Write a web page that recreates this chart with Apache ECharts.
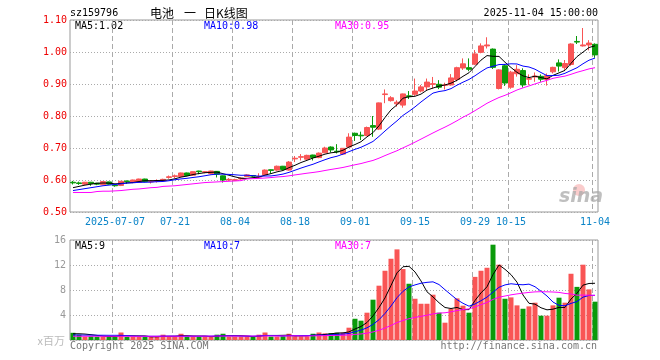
<!DOCTYPE html>
<html><head><meta charset="utf-8">
<script src="https://cdn.jsdelivr.net/npm/echarts@6/dist/echarts.min.js"></script>
<style>html,body{margin:0;padding:0;background:#fff}#c{width:660px;height:360px}</style>
</head><body><div id="c"></div>
<script>
// ---------- data ----------
const dates = ['2025-06-26','2025-06-27','2025-06-30','2025-07-01','2025-07-02','2025-07-03','2025-07-04','2025-07-07','2025-07-08','2025-07-09','2025-07-10','2025-07-11','2025-07-14','2025-07-15','2025-07-16','2025-07-17','2025-07-18','2025-07-21','2025-07-22','2025-07-23','2025-07-24','2025-07-25','2025-07-28','2025-07-29','2025-07-30','2025-07-31','2025-08-01','2025-08-04','2025-08-05','2025-08-06','2025-08-07','2025-08-08','2025-08-11','2025-08-12','2025-08-13','2025-08-14','2025-08-15','2025-08-18','2025-08-19','2025-08-20','2025-08-21','2025-08-22','2025-08-25','2025-08-26','2025-08-27','2025-08-28','2025-08-29','2025-09-01','2025-09-02','2025-09-03','2025-09-04','2025-09-05','2025-09-08','2025-09-09','2025-09-10','2025-09-11','2025-09-12','2025-09-15','2025-09-16','2025-09-17','2025-09-18','2025-09-19','2025-09-22','2025-09-23','2025-09-24','2025-09-25','2025-09-26','2025-09-29','2025-09-30','2025-10-09','2025-10-10','2025-10-13','2025-10-14','2025-10-15','2025-10-16','2025-10-17','2025-10-20','2025-10-21','2025-10-22','2025-10-23','2025-10-24','2025-10-27','2025-10-28','2025-10-29','2025-10-30','2025-10-31','2025-11-03','2025-11-04'];

const openP  = [0.593,0.591,0.587,0.593,0.590,0.585,0.594,0.584,0.583,0.597,0.592,0.593,0.603,0.594,0.596,0.598,0.608,0.611,0.611,0.622,0.615,0.628,0.624,0.620,0.627,0.613,0.600,0.599,0.603,0.611,0.614,0.609,0.616,0.632,0.631,0.643,0.631,0.666,0.671,0.665,0.678,0.670,0.685,0.703,0.690,0.681,0.703,0.746,0.740,0.739,0.770,0.759,0.867,0.848,0.838,0.834,0.863,0.868,0.878,0.891,0.899,0.899,0.896,0.897,0.914,0.950,0.951,0.962,0.999,1.019,1.009,0.886,0.957,0.890,0.932,0.942,0.915,0.922,0.924,0.914,0.938,0.966,0.951,0.961,1.033,1.019,1.022,1.024];
const closeP = [0.591,0.589,0.593,0.589,0.587,0.595,0.587,0.582,0.596,0.595,0.600,0.603,0.595,0.596,0.598,0.602,0.610,0.613,0.622,0.614,0.626,0.626,0.626,0.628,0.618,0.600,0.602,0.601,0.606,0.616,0.612,0.611,0.631,0.630,0.643,0.633,0.656,0.668,0.673,0.677,0.670,0.684,0.700,0.694,0.688,0.699,0.734,0.739,0.738,0.764,0.765,0.841,0.869,0.857,0.843,0.869,0.861,0.878,0.891,0.906,0.901,0.890,0.897,0.919,0.951,0.963,0.946,0.994,1.019,1.022,0.952,0.944,0.903,0.937,0.946,0.897,0.917,0.925,0.915,0.926,0.952,0.956,0.964,1.025,1.031,1.022,1.028,0.991];
const lowP   = [0.586,0.585,0.585,0.582,0.584,0.584,0.585,0.579,0.581,0.588,0.590,0.591,0.593,0.589,0.592,0.597,0.604,0.606,0.610,0.612,0.613,0.618,0.621,0.618,0.608,0.592,0.597,0.597,0.601,0.609,0.609,0.606,0.614,0.620,0.629,0.630,0.629,0.656,0.661,0.663,0.661,0.668,0.684,0.686,0.683,0.678,0.700,0.722,0.725,0.737,0.735,0.756,0.840,0.845,0.829,0.826,0.853,0.863,0.874,0.881,0.886,0.884,0.883,0.895,0.908,0.944,0.940,0.959,0.996,1.011,0.947,0.883,0.894,0.885,0.923,0.889,0.897,0.907,0.907,0.895,0.933,0.939,0.941,0.957,1.025,1.017,1.005,0.982];
const highP  = [0.597,0.595,0.594,0.594,0.591,0.596,0.595,0.586,0.597,0.598,0.601,0.604,0.604,0.600,0.602,0.604,0.614,0.617,0.623,0.623,0.627,0.629,0.628,0.629,0.628,0.614,0.606,0.604,0.608,0.618,0.615,0.621,0.633,0.633,0.645,0.644,0.659,0.675,0.681,0.679,0.679,0.686,0.704,0.705,0.712,0.700,0.746,0.748,0.751,0.767,0.800,0.842,0.883,0.862,0.849,0.870,0.878,0.917,0.897,0.917,0.922,0.912,0.904,0.931,0.954,0.980,0.980,1.006,1.027,1.046,1.011,0.946,0.962,0.941,0.959,0.949,0.930,0.936,0.930,0.933,0.954,0.977,0.975,1.027,1.050,1.075,1.037,1.027];

// volume, in millions (x百万)
const volume = [1.15,0.85,0.55,0.6,0.55,0.55,0.55,0.55,1.2,0.5,0.55,0.5,0.5,0.5,0.55,0.85,0.55,0.55,1.0,0.55,0.55,0.5,0.55,0.55,0.85,1.0,0.55,0.55,0.55,0.55,0.5,0.85,1.2,0.55,0.55,0.6,1.0,0.6,0.6,0.6,1.0,1.2,1.06,1.1,1.17,1.17,1.97,3.4,3.09,4.37,6.45,8.69,11.08,13.0,14.5,11.35,9.0,6.6,5.8,5.8,7.25,4.37,2.77,5.0,6.66,5.49,4.37,10.1,11.08,11.56,15.25,12.05,6.6,6.82,5.54,5.0,5.38,5.97,3.89,3.89,5.54,6.77,5.97,10.6,8.5,12.05,8.1,6.13];

// starting values of the average lines, read where the window reaches before the first shown day
const ma5Head  = [0.576,0.580,0.584,0.587];
const ma10Head = [0.567,0.570,0.573,0.576,0.579,0.582,0.584,0.586,0.588];
const ma30Head = [0.561,0.561,0.561,0.561,0.564,0.565,0.565,0.566,0.567,0.569,0.571,0.572,0.574,0.576,0.577,0.580,0.581,0.582,0.584,0.586,0.588,0.590,0.592,0.593,0.594,0.595,0.596,0.597,0.598];
const volMa5Head  = [1.0,1.0,0.95,0.85];
const volMa10Head = [0.8,0.8,0.78,0.78,0.76,0.76,0.75,0.75,0.75];
const volMa30Head = [0.6,0.6,0.6,0.6,0.6,0.6,0.6,0.6,0.6,0.6,0.6,0.6,0.6,0.6,0.6,0.61,0.61,0.61,0.61,0.62,0.62,0.62,0.62,0.62,0.63,0.63,0.63,0.63,0.64];

const tickDates = ['2025-07-07','2025-07-21','2025-08-04','2025-08-18','2025-09-01','2025-09-15','2025-09-29','2025-10-15','2025-11-04'];
const priceTicks = [0.5,0.6,0.7,0.8,0.9,1.0,1.1];
const volTicks = [0,4,8,12,16];

const titleCode = 'sz159796';
const titleName = ['电池','一','日K线图'];
const stamp = '2025-11-04 15:00:00';
const maLabels = ['MA5:1.02','MA10:0.98','MA30:0.95'];
const volMaLabels = ['MA5:9','MA10:7','MA30:7'];

// ---------- build ----------
function movingAvg(vals, n, head) {
  return vals.map((v, i) => {
    if (i < n - 1) return head[i];
    let s = 0; for (let k = i - n + 1; k <= i; k++) s += vals[k];
    return +(s / n).toFixed(4);
  });
}
const UP = '#f95555', DOWN = '#0a9a0a';
const candle = dates.map((d, i) => [openP[i], closeP[i], lowP[i], highP[i]]);
const volBars = volume.map((v, i) => ({ value: v, itemStyle: { color: closeP[i] >= openP[i] ? UP : DOWN } }));
const tickSet = new Set(tickDates.map(d => dates.indexOf(d)));
const tickFn = (idx) => tickSet.has(idx);
const MONO = '"DejaVu Sans Mono", "Liberation Mono", monospace';

const lineS = (name, data, color, xi) => ({
  name, type: 'line', data, xAxisIndex: xi, yAxisIndex: xi, symbol: 'none', silent: true,
  lineStyle: { color, width: 1 }, z: 5
});

function txt(x, y, text, fill, font, align) {
  return { type: 'text', x, y, silent: true, style: { text, fill, font, textAlign: align || 'left', textVerticalAlign: 'middle' } };
}

const chart = echarts.init(document.getElementById('c'));
const xBase = (gi) => ({
  type: 'category', gridIndex: gi, data: dates,
  axisLine: { show: false }, axisTick: { show: false },
  axisLabel: gi === 0 ? {
    interval: tickFn, color: '#0a84c8', fontFamily: MONO, fontSize: 10, margin: 5,
    formatter: (v) => v === tickDates[0] ? v : v.slice(5)
  } : { show: false }
});

chart.setOption({
  animation: false,
  grid: [
    { left: 70, right: 62, top: 20, height: 192, show: true, borderColor: '#999', backgroundColor: 'transparent' },
    { left: 70, right: 62, top: 240, height: 100, show: true, borderColor: '#999', backgroundColor: 'transparent' }
  ],
  xAxis: [xBase(0), xBase(1)],
  yAxis: [
    { type: 'value', gridIndex: 0, min: priceTicks[0], max: priceTicks[priceTicks.length - 1], interval: 0.1,
      axisLine: { show: false }, axisTick: { show: false },
      axisLabel: { color: '#e00', fontFamily: MONO, fontSize: 10, margin: 3, formatter: v => v.toFixed(2) },
      splitLine: { lineStyle: { color: '#aaa', type: [1, 2] } } },
    { type: 'value', gridIndex: 1, min: volTicks[0], max: volTicks[volTicks.length - 1], interval: 4,
      axisLine: { show: false }, axisTick: { show: false },
      axisLabel: { color: '#999', fontFamily: MONO, fontSize: 10, margin: 4, formatter: v => v === 0 ? '' : String(v) },
      splitLine: { lineStyle: { color: '#aaa', type: [1, 2] } } }
  ],
  series: [
    { type: 'candlestick', data: candle, xAxisIndex: 0, yAxisIndex: 0, barWidth: 5, silent: true,
      itemStyle: { color: UP, color0: DOWN, borderColor: UP, borderColor0: DOWN, borderWidth: 1 }, z: 3 },
    lineS('MA5', movingAvg(closeP, 5, ma5Head), '#000', 0),
    lineS('MA10', movingAvg(closeP, 10, ma10Head), '#00f', 0),
    lineS('MA30', movingAvg(closeP, 30, ma30Head), '#f0f', 0),
    { type: 'bar', data: volBars, xAxisIndex: 1, yAxisIndex: 1, barWidth: 5, silent: true, z: 3 },
    lineS('VMA5', movingAvg(volume, 5, volMa5Head), '#000', 1),
    lineS('VMA10', movingAvg(volume, 10, volMa10Head), '#00f', 1),
    lineS('VMA30', movingAvg(volume, 30, volMa30Head), '#f0f', 1)
  ]
});

// dashed date gridlines: positions come from the chart's own axes (just left of each date's candle)
const dateLines = [];
[[0, priceTicks[0], priceTicks[priceTicks.length - 1]], [1, volTicks[0], volTicks[volTicks.length - 1]]].forEach(([gi, lo, hi]) => {
  const yTop = chart.convertToPixel({ yAxisIndex: gi }, hi);
  const yBot = chart.convertToPixel({ yAxisIndex: gi }, lo);
  tickDates.forEach(d => {
    const cx = chart.convertToPixel({ xAxisIndex: gi }, d);
    const x = Math.floor(cx - 2.5) + 0.5;
    dateLines.push({ type: 'line', silent: true, z: 1,
      shape: { x1: x, y1: yTop, x2: x, y2: yBot },
      style: { stroke: '#aaa', lineWidth: 1, lineDash: [5, 3] } });
  });
});

chart.setOption({
  graphic: dateLines.concat([
    { type: 'group', silent: true, children: [
      { type: 'circle', shape: { cx: 579, cy: 190, r: 6 }, style: { fill: 'rgba(240,110,110,0.35)' } },
      txt(581, 197, 'sina', 'rgba(170,170,170,0.75)', 'italic bold 19px "DejaVu Sans"', 'center')
    ]},
    txt(70, 13, titleCode, '#000', '10px ' + MONO),
    txt(150, 13, titleName[0], '#000', '12px "Noto Sans CJK SC"'),
    txt(184, 13, titleName[1], '#000', '12px "Noto Sans CJK SC"'),
    txt(204, 13, titleName[2], '#000', '12px "Noto Sans CJK SC"'),
    txt(598, 13, stamp, '#000', '10px ' + MONO, 'right'),
    txt(75, 26, maLabels[0], '#000', '10px ' + MONO),
    txt(204, 26, maLabels[1], '#00f', '10px ' + MONO),
    txt(335, 26, maLabels[2], '#f0f', '10px ' + MONO),
    txt(75, 246, volMaLabels[0], '#000', '10px ' + MONO),
    txt(204, 246, volMaLabels[1], '#00f', '10px ' + MONO),
    txt(335, 246, volMaLabels[2], '#f0f', '10px ' + MONO),
    txt(65, 341, 'x百万', '#bbb', '11px "Noto Sans CJK SC"', 'right'),
    txt(70, 346, 'Copyright 2025 SINA.COM', '#777', '10px ' + MONO),
    txt(597, 346, 'http://finance.sina.com.cn', '#777', '10px ' + MONO, 'right')
  ])
});
</script></body></html>
